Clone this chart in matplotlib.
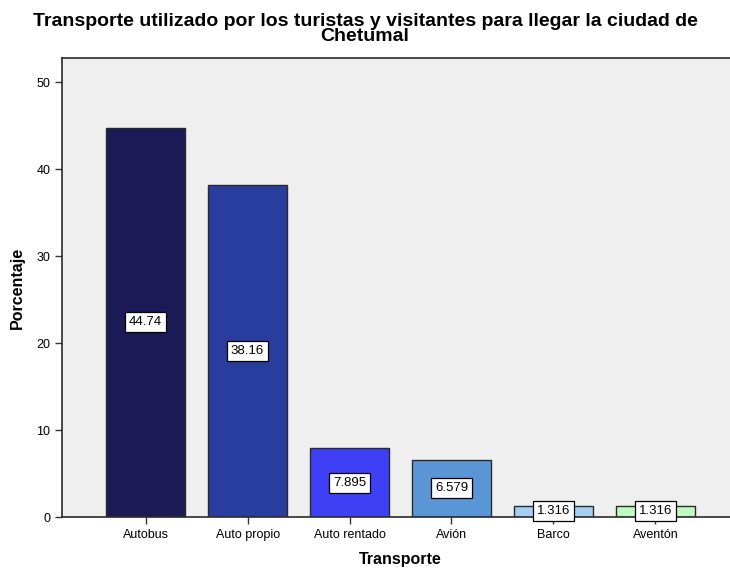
import matplotlib
matplotlib.use("Agg")
import matplotlib.pyplot as plt
import numpy as np

# 数据
categorias = ["Autobus", "Auto propio", "Auto rentado", "Avión", "Barco", "Aventón"]
porcentajes = [44.74, 38.16, 7.895, 6.579, 1.316, 1.316]
etiquetas = ["44.74", "38.16", "7.895", "6.579", "1.316", "1.316"]
colores = ["#1b1a57", "#283d9d", "#3f3ff6", "#5a95d6", "#a5cff2", "#c1f7c1"]

plt.rcParams["font.family"] = ["Liberation Sans", "DejaVu Sans"]

fig = plt.figure(figsize=(7.3, 5.7), dpi=100)
ax = fig.add_axes([62 / 730, 53 / 570, 677 / 730, 459 / 570])
ax.set_facecolor("#efefef")

x = np.arange(len(categorias))
ax.bar(x, porcentajes, width=0.77, color=colores, edgecolor="#2a2a2a", linewidth=1.0, zorder=2)

# 数值标签（柱子中部）
for xi, v, t in zip(x, porcentajes, etiquetas):
    ax.text(xi, v / 2, t, ha="center", va="center", fontsize=9.5, zorder=4,
            bbox=dict(boxstyle="square,pad=0.3", facecolor="white", edgecolor="black", linewidth=0.9))

ax.set_xlim(-0.82, 5.82)
ax.set_ylim(0, 52.76)
ax.set_yticks([0, 10, 20, 30, 40, 50])
ax.set_xticks(x)
ax.set_xticklabels(categorias, fontsize=9)
ax.tick_params(axis="y", labelsize=9, length=5, width=1, colors="#333333")
ax.tick_params(axis="x", length=5, width=1, colors="#333333")
for lab in ax.get_xticklabels() + ax.get_yticklabels():
    lab.set_color("black")

for s in ["left", "bottom", "top"]:
    ax.spines[s].set_color("#2a2a2a")
    ax.spines[s].set_linewidth(1.2)
ax.spines["right"].set_visible(False)

ax.set_xlabel("Transporte", fontsize=11.5, fontweight="bold", labelpad=8)
ax.set_ylabel("Porcentaje", fontsize=11.5, fontweight="bold", labelpad=8)

fig.text(0.5, 1 - 29 / 570, "Transporte utilizado por los turistas y visitantes para llegar la ciudad de\nChetumal",
         ha="center", va="center", fontsize=14, fontweight="bold", linespacing=0.88)

fig.savefig("out.png", dpi=100)
